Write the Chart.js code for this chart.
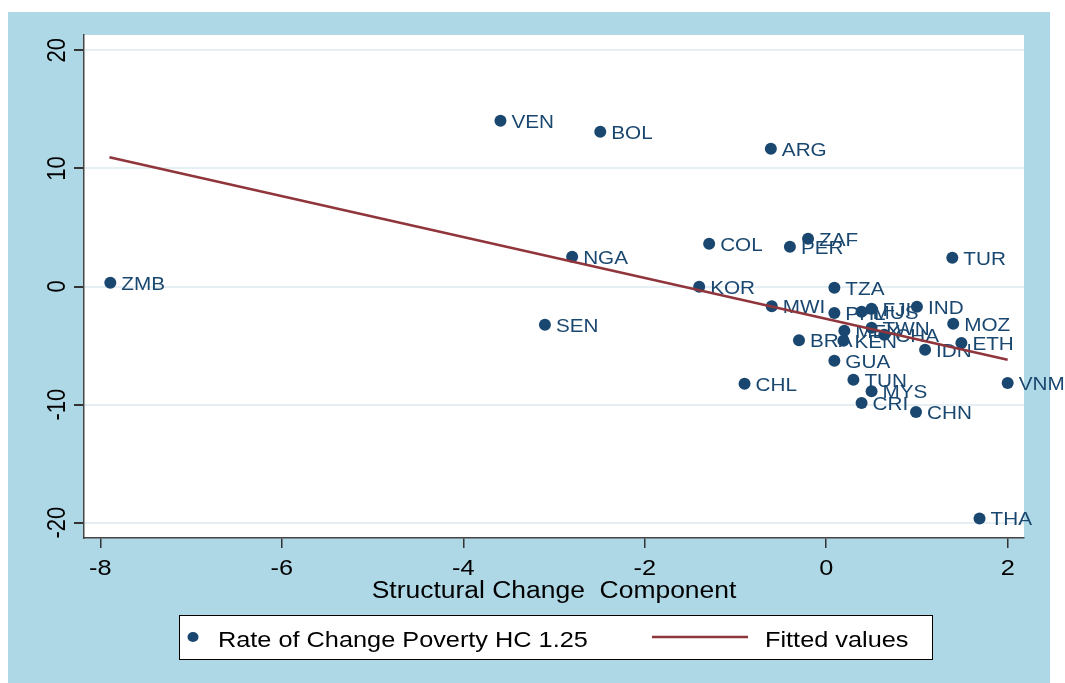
<!DOCTYPE html>
<html>
<head>
<meta charset="utf-8">
<script src="https://cdn.jsdelivr.net/npm/chart.js@4"></script>
<style>
  body { margin: 0; background: #fff; }
  canvas { display: block; }
</style>
</head>
<body>
<canvas id="chart" width="1065" height="683"></canvas>
<script>
// country codes and the two components
const countries = ['ZMB', 'VEN', 'BOL', 'ARG', 'NGA', 'SEN', 'COL', 'ZAF', 'PER', 'KOR', 'TUR',
  'TZA', 'MWI', 'PHL', 'MUS', 'FJI', 'IND', 'MEX', 'TWN', 'CHA', 'BRA', 'KEN', 'GUA', 'MOZ',
  'ETH', 'IDN', 'CHL', 'TUN', 'MYS', 'CRI', 'CHN', 'VNM', 'THA'];
const structChange = [-7.89, -3.59, -2.49, -0.61, -2.80, -3.10, -1.29, -0.20, -0.40, -1.40, 1.39,
  0.09, -0.60, 0.09, 0.39, 0.50, 1.00, 0.20, 0.50, 0.64, -0.30, 0.19, 0.09, 1.40,
  1.49, 1.09, -0.90, 0.30, 0.50, 0.39, 0.99, 2.00, 1.69];
const povertyChange = [0.32, 14.03, 13.10, 11.67, 2.52, -3.23, 3.62, 4.05, 3.37, -0.02, 2.44,
  -0.10, -1.68, -2.24, -2.13, -1.88, -1.72, -3.74, -3.49, -4.09, -4.56, -4.59, -6.28, -3.15,
  -4.79, -5.35, -8.23, -7.89, -8.88, -9.87, -10.63, -8.17, -19.64];

// fitted line end points
const fitX = [-7.9, 2.0];
const fitY = [10.95, -6.2];

const xTicks = [-8, -6, -4, -2, 0, 2];
const yTicks = [-20, -10, 0, 10, 20];

const NAVY = '#1a476f';
const MAROON = '#90353b';
const FONT = "'Liberation Sans', Arial, sans-serif";
const STRETCH = 1.15;

function stretchedText(ctx, text, x, y, size, align, color, rotate) {
  ctx.save();
  ctx.translate(x, y);
  if (rotate) {
    ctx.rotate(-Math.PI / 2);
    ctx.scale(1, STRETCH);
  } else {
    ctx.scale(STRETCH, 1);
  }
  ctx.font = `${size}px ${FONT}`;
  ctx.fillStyle = color;
  ctx.textAlign = align;
  ctx.textBaseline = 'alphabetic';
  ctx.fillText(text, 0, 0);
  ctx.restore();
}

const backdrop = {
  id: 'backdrop',
  beforeDraw(chart) {
    const { ctx, chartArea } = chart;
    ctx.save();
    ctx.fillStyle = '#ffffff';
    ctx.fillRect(0, 0, chart.width, chart.height);
    ctx.fillStyle = '#aed8e5';
    ctx.fillRect(8, 12, 1042, chart.height - 12);
    ctx.fillStyle = '#ffffff';
    ctx.fillRect(chartArea.left, chartArea.top, chartArea.right - chartArea.left, chartArea.bottom - chartArea.top);
    ctx.restore();
  }
};

const markerLabels = {
  id: 'markerLabels',
  beforeDatasetsDraw(chart) {
    const ctx = chart.ctx;
    const meta = chart.getDatasetMeta(0);
    meta.data.forEach((pt, i) => {
      stretchedText(ctx, countries[i], pt.x + 11, pt.y + 7, 18, 'left', NAVY, false);
    });
  }
};

const axisText = {
  id: 'axisText',
  afterDraw(chart) {
    const { ctx, chartArea } = chart;
    const xs = chart.scales.x;
    const ys = chart.scales.y;

    xTicks.forEach((v) => {
      stretchedText(ctx, String(v), xs.getPixelForValue(v), 575, 22, 'center', '#000', false);
    });
    yTicks.forEach((v) => {
      stretchedText(ctx, String(v), 65, ys.getPixelForValue(v), 22, 'center', '#000', true);
    });
    stretchedText(ctx, 'Structural Change  Component', (chartArea.left + chartArea.right) / 2, 598, 23, 'center', '#000', false);

    // legend box
    ctx.save();
    ctx.fillStyle = '#ffffff';
    ctx.fillRect(179, 615, 753, 44);
    ctx.strokeStyle = '#000';
    ctx.lineWidth = 1;
    ctx.strokeRect(179.5, 615.5, 753, 44);
    ctx.fillStyle = NAVY;
    ctx.beginPath();
    ctx.ellipse(193, 637, 5.5, 5, 0, 0, Math.PI * 2);
    ctx.fill();
    ctx.strokeStyle = MAROON;
    ctx.lineWidth = 2.5;
    ctx.beginPath();
    ctx.moveTo(652, 637);
    ctx.lineTo(748, 637);
    ctx.stroke();
    ctx.restore();
    stretchedText(ctx, 'Rate of Change Poverty HC 1.25', 218, 647, 22, 'left', '#000', false);
    stretchedText(ctx, 'Fitted values', 765, 647, 22, 'left', '#000', false);
  }
};

const ctx = document.getElementById('chart');

new Chart(ctx, {
  type: 'scatter',
  data: {
    datasets: [
      {
        label: 'Rate of Change Poverty HC 1.25',
        data: structChange.map((x, i) => ({ x, y: povertyChange[i] })),
        backgroundColor: NAVY,
        borderColor: NAVY,
        borderWidth: 0,
        pointRadius: 6,
        pointHoverRadius: 6,
        order: 2
      },
      {
        type: 'line',
        label: 'Fitted values',
        data: fitX.map((x, i) => ({ x, y: fitY[i] })),
        borderColor: MAROON,
        borderWidth: 2.5,
        pointRadius: 0,
        fill: false,
        order: 1
      }
    ]
  },
  options: {
    responsive: false,
    animation: false,
    events: [],
    layout: {
      padding: { left: 64, right: 41, top: 35, bottom: 125 }
    },
    plugins: {
      legend: { display: false },
      tooltip: { enabled: false }
    },
    scales: {
      x: {
        type: 'linear',
        min: -8.18,
        max: 2.18,
        afterBuildTicks: (scale) => { scale.ticks = xTicks.map((value) => ({ value })); },
        afterFit: (scale) => { scale.height = 20; },
        ticks: { display: false },
        grid: {
          drawOnChartArea: false,
          tickLength: 10,
          tickColor: '#333',
          lineWidth: 1.5
        },
        border: { color: '#444', width: 1.5 }
      },
      y: {
        type: 'linear',
        min: -21.3,
        max: 21.3,
        afterBuildTicks: (scale) => { scale.ticks = yTicks.map((value) => ({ value })); },
        afterFit: (scale) => { scale.width = 20; },
        ticks: { display: false },
        grid: {
          color: '#e5eef2',
          lineWidth: 2,
          tickLength: 10,
          tickColor: '#333'
        },
        border: { color: '#444', width: 1.5 }
      }
    }
  },
  plugins: [backdrop, markerLabels, axisText]
});
</script>
</body>
</html>
